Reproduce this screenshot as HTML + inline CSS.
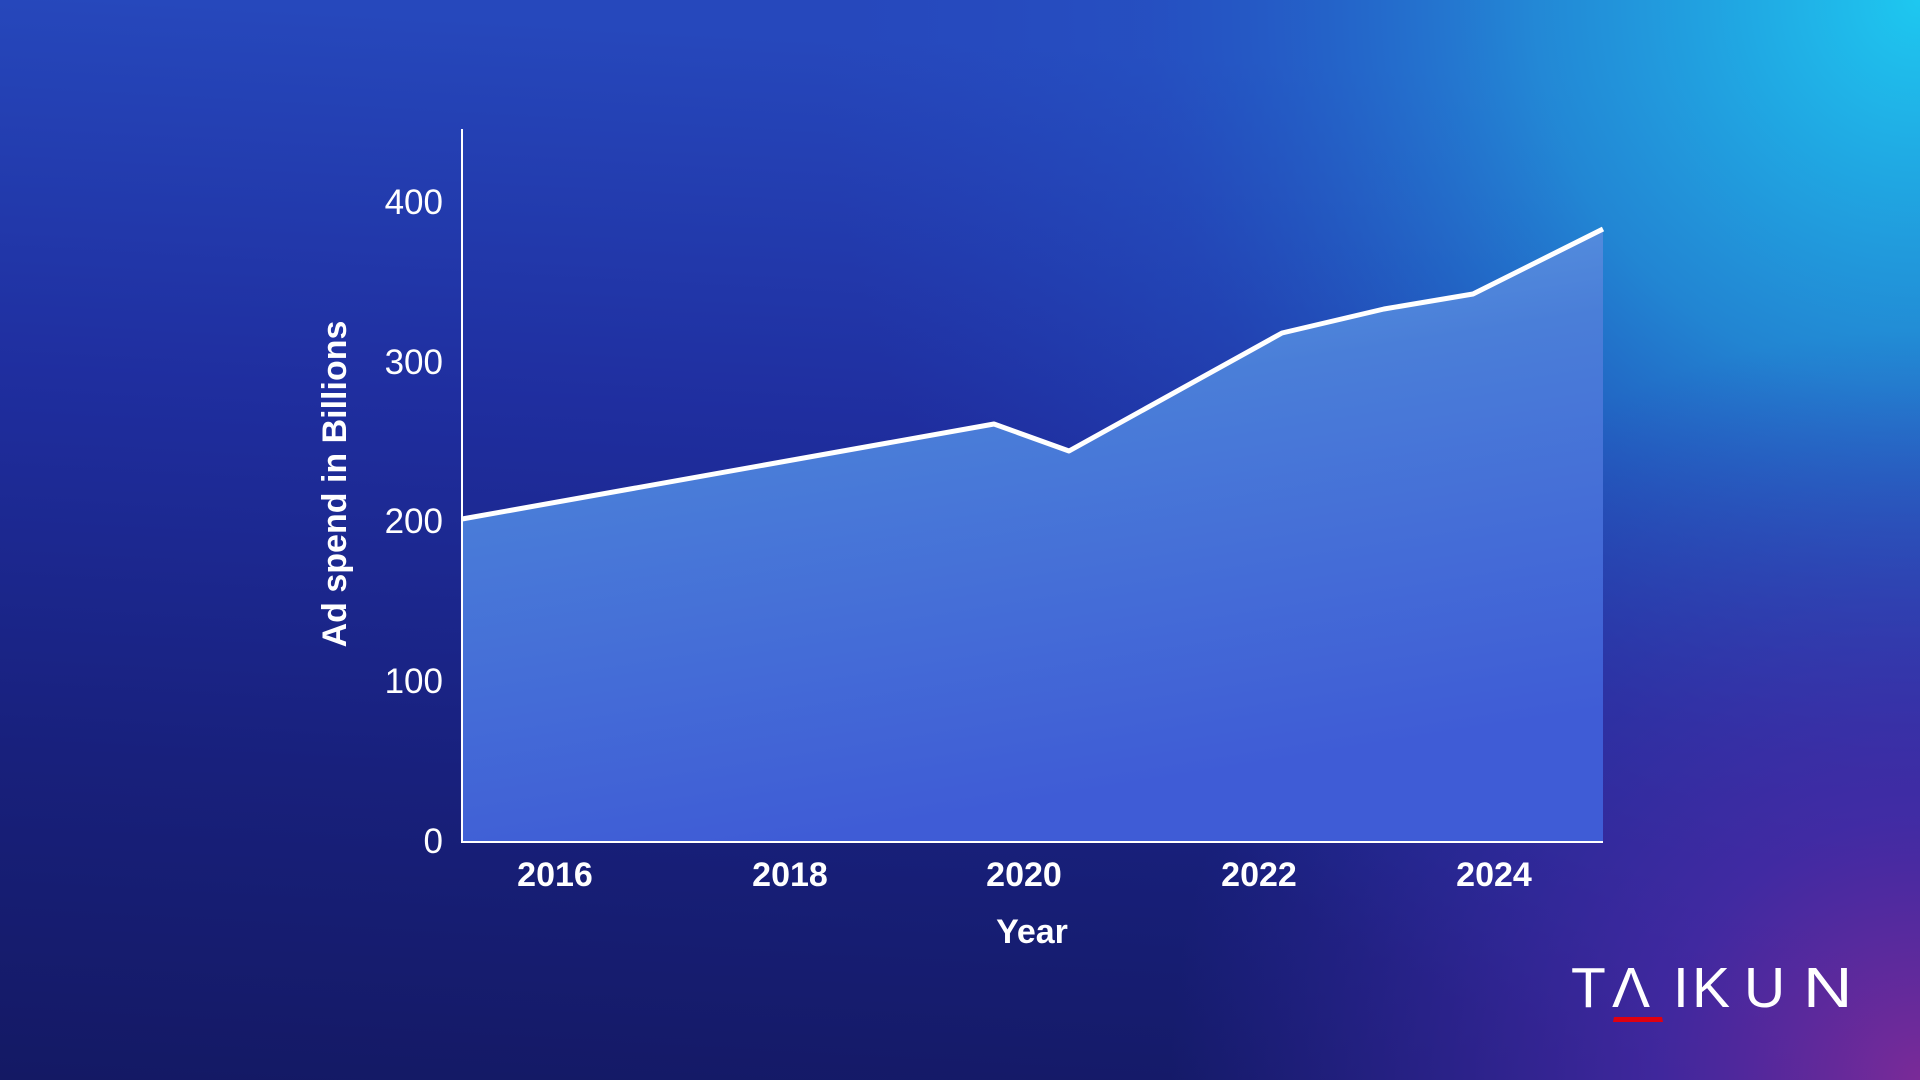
<!DOCTYPE html>
<html><head><meta charset="utf-8"><style>
html,body{margin:0;padding:0;width:1920px;height:1080px;overflow:hidden;}
body{background:#1a2090;}
svg{display:block}
text{font-family:"Liberation Sans",sans-serif;fill:#fff}
</style></head><body>
<svg width="1920" height="1080" viewBox="0 0 1920 1080" xmlns="http://www.w3.org/2000/svg">
<defs>
<linearGradient id="bg" x1="0.1" y1="0" x2="0" y2="1">
<stop offset="0" stop-color="#2648bc"/>
<stop offset="0.35" stop-color="#1f2e9f"/>
<stop offset="0.7" stop-color="#18207c"/>
<stop offset="1" stop-color="#141964"/>
</linearGradient>
<radialGradient id="cy" cx="1920" cy="0" r="1100" gradientUnits="userSpaceOnUse">
<stop offset="0" stop-color="#1ec8f0" stop-opacity="1"/>
<stop offset="0.35" stop-color="#2298dc" stop-opacity="0.8"/>
<stop offset="0.7" stop-color="#2460cc" stop-opacity="0.3"/>
<stop offset="1" stop-color="#2450c8" stop-opacity="0"/>
</radialGradient>
<radialGradient id="pur" cx="1920" cy="1080" r="750" gradientUnits="userSpaceOnUse">
<stop offset="0" stop-color="#7a2a98" stop-opacity="1"/>
<stop offset="0.35" stop-color="#4a2aa8" stop-opacity="0.8"/>
<stop offset="1" stop-color="#3a2ab0" stop-opacity="0"/>
</radialGradient>
<linearGradient id="fill" x1="0" y1="0" x2="0.3" y2="1">
<stop offset="0" stop-color="#65a8e6"/>
<stop offset="0.4" stop-color="#4a7ed8"/>
<stop offset="1" stop-color="#3f5cd6"/>
</linearGradient>
</defs>
<rect width="1920" height="1080" fill="url(#bg)"/>
<rect width="1920" height="1080" fill="url(#cy)"/>
<rect width="1920" height="1080" fill="url(#pur)"/>
<polygon points="462,519 994,424 1069,451 1282,333 1384,309 1473,294 1603,229 1603,841 462,841" fill="url(#fill)"/>
<polyline points="462,519 994,424 1069,451 1282,333 1384,309 1473,294 1603,229" fill="none" stroke="#fff" stroke-width="5" stroke-linejoin="round"/>
<line x1="462" y1="129" x2="462" y2="842" stroke="#fff" stroke-width="2"/>
<line x1="461" y1="842" x2="1603" y2="842" stroke="#fff" stroke-width="2"/>
<g font-size="35" text-anchor="end" style="font-weight:300">
<text x="443" y="214">400</text>
<text x="443" y="374">300</text>
<text x="443" y="533">200</text>
<text x="443" y="693">100</text>
<text x="443" y="853">0</text>
</g>
<g font-size="34" font-weight="bold" text-anchor="middle">
<text x="555" y="886">2016</text>
<text x="790" y="886">2018</text>
<text x="1024" y="886">2020</text>
<text x="1259" y="886">2022</text>
<text x="1494" y="886">2024</text>
<text x="1032" y="943">Year</text>
</g>
<text transform="translate(346,484) rotate(-90)" font-size="34" font-weight="bold" text-anchor="middle">Ad spend in Billions</text>
<g font-size="57">
<text x="1571" y="1007">T</text>
<text x="1612" y="1007">Λ</text>
<text x="1673" y="1007">I</text>
<text x="1692" y="1007">K</text>
<text x="1744" y="1007">U</text>
<text transform="translate(1803,1007) scale(1.2,1)">N</text>
</g>
<polygon points="1614,1017 1662,1017 1663,1022 1613,1022" fill="#e00010"/>
</svg>
</body></html>
